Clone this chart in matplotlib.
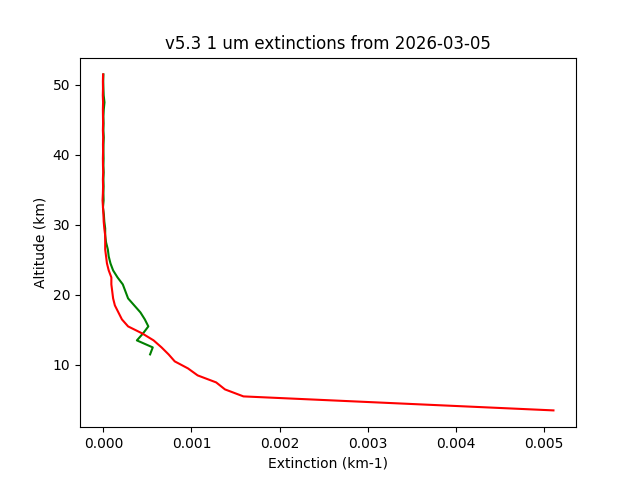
"""Extinction profiles (1 um) for a single day."""

import matplotlib

matplotlib.use("Agg")
import matplotlib.pyplot as plt

TITLE = "v5.3 1 um extinctions from 2026-03-05"

# green profile
green_alt = [11.5, 12.5, 13.5, 14.5, 15.5, 16.5, 17.5, 18.5, 19.5, 20.5, 21.5,
             22.5, 23.5, 24.5, 25.5, 26.5, 27.5, 28.5, 29.5, 30.5, 31.5, 32.5,
             33.5, 34.5, 35.5, 36.5, 37.5, 38.5, 39.5, 40.5, 41.5, 42.5, 43.5,
             44.5, 45.5, 46.5, 47.5, 48.5, 49.5, 50.5, 51.5]
green_ext = [0.00053, 0.00056, 0.00038, 0.00045, 0.00051, 0.00047, 0.00042,
             0.00035, 0.00028, 0.00025, 0.00022, 0.00016, 0.00011, 0.00008,
             0.00006, 0.00005, 0.00003, 0.00002, 0.00002, 0.00001, 0.000005,
             -0.000005, 0.000002, 0.0, 0.000002, 0.0, 0.000003, 0.0, 0.000002,
             0.0, 0.000001, 0.000004, 0.0, 0.000002, 0.0, 0.000004, 0.000012,
             0.000003, 0.0, -0.000002, 0.0]

# red profile
red_alt = [3.5, 5.5, 6.5, 7.5, 8.5, 9.5, 10.5, 11.5, 12.5, 13.5, 14.5, 15.5,
           16.5, 17.5, 18.5, 19.5, 20.5, 21.5, 22.5, 23.5, 24.5, 25.5, 26.5,
           27.5, 28.5, 29.5, 30.5, 31.5, 32.5, 33.5, 34.5, 35.5, 36.5, 37.5,
           38.5, 39.5, 40.5, 41.5, 42.5, 43.5, 44.5, 45.5, 46.5, 47.5, 48.5,
           49.5, 50.5, 51.5]
red_ext = [0.00511, 0.00159, 0.00138, 0.00128, 0.00107, 0.00096, 0.00081,
           0.00074, 0.00066, 0.00057, 0.00044, 0.00028, 0.00021, 0.00017,
           0.00013, 0.00011, 0.00010, 0.00009, 0.00009, 0.00006, 0.00004,
           0.00003, 0.00002, 0.00002, 0.00002, 0.00001, 0.000003, 0.0,
           -0.000005, -0.00001, -0.000006, -0.000004, -0.000006, -0.000003,
           -0.000005, -0.000006, -0.000004, -0.000005, -0.000003, -0.000006,
           -0.000004, -0.000005, -0.000006, -0.000004, -0.000007, -0.000005,
           -0.000006, -0.000004]

fig, ax = plt.subplots(figsize=(6.4, 4.8), dpi=100)
ax.plot(green_ext, green_alt, color="green")
ax.plot(red_ext, red_alt, color="red")
ax.set_xlabel("Extinction (km-1)")
ax.set_ylabel("Altitude (km)")
ax.set_title(TITLE)
fig.savefig("out.png", dpi=100)
